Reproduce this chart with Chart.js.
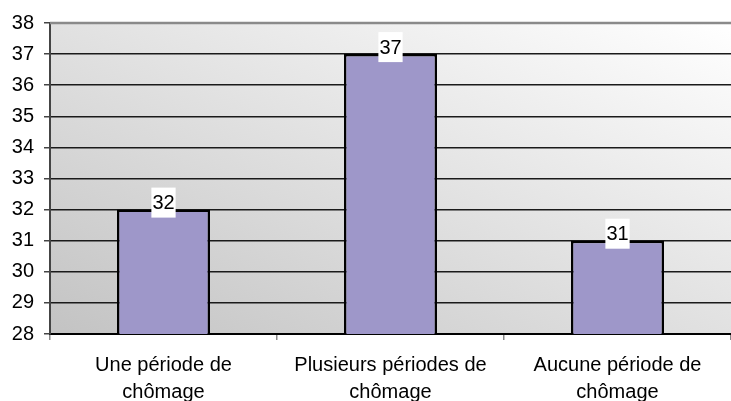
<!DOCTYPE html>
<html>
<head>
<meta charset="utf-8">
<script src="https://cdn.jsdelivr.net/npm/chart.js@4.4.1/dist/chart.umd.min.js"></script>
<style>
  html, body { margin: 0; padding: 0; background: #fff; }
  #wrap { width: 731px; height: 401px; }
</style>
</head>
<body>
<div id="wrap"><canvas id="myChart" width="731" height="401"></canvas></div>
<script>
(function () {
    "use strict";

    // chart data
    const categories = [
        ['Une période de', 'chômage'],
        ['Plusieurs périodes de', 'chômage'],
        ['Aucune période de', 'chômage']
    ];
    const values = [32, 37, 31];
    const yMin = 28;
    const yMax = 38;

    const FONT = '"Liberation Sans", Arial, sans-serif';

    // grey diagonal gradient behind the plot, plus the grey top border
    const plotBackground = {
        id: 'plotBackground',
        beforeDraw(chart) {
            const a = chart.chartArea;
            const c = chart.ctx;
            const w = a.right - a.left, h = a.bottom - a.top;
            const t = 2 * w * h / (w * w + h * h);
            const g = c.createLinearGradient(a.left, a.bottom, a.left + t * h, a.bottom - t * w);
            g.addColorStop(0, '#c3c3c3');
            g.addColorStop(1, '#ffffff');
            c.save();
            c.fillStyle = g;
            c.fillRect(a.left, a.top, w, h);
            c.restore();
        },
        afterDatasetsDraw(chart) {
            const a = chart.chartArea;
            const c = chart.ctx;
            c.save();
            c.strokeStyle = '#8a8a8a';
            c.lineWidth = 2.5;
            c.beginPath();
            c.moveTo(a.left, a.top);
            c.lineTo(a.right, a.top);
            c.stroke();
            c.restore();
        }
    };

    // value labels in white boxes above the bars
    const valueLabels = {
        id: 'valueLabels',
        afterDatasetsDraw(chart) {
            const c = chart.ctx;
            const meta = chart.getDatasetMeta(0);
            c.save();
            c.font = '20px ' + FONT;
            c.textAlign = 'center';
            c.textBaseline = 'middle';
            meta.data.forEach(function (bar, i) {
                const txt = String(values[i]);
                const bw = c.measureText(txt).width + 2;
                const bh = 30;
                const cy = bar.y - 7;
                c.fillStyle = '#ffffff';
                c.fillRect(bar.x - bw / 2, cy - bh / 2, bw, bh);
                c.fillStyle = '#000000';
                c.fillText(txt, bar.x, cy + 1);
            });
            c.restore();
        }
    };

    let ctx = document.getElementById('myChart').getContext('2d');
    let chart = new Chart(ctx, {
        type: 'bar',
        data: {
            labels: categories,
            datasets: [
                {
                    data: values,
                    backgroundColor: '#9e97c9',
                    borderColor: '#000000',
                    borderWidth: 2.5,
                    borderSkipped: 'bottom',
                    barPercentage: 0.82,
                    categoryPercentage: 0.5
                }
            ]
        },
        options: {
            responsive: false,
            animation: false,
            layout: {
                padding: { top: 23, right: 0, left: 0, bottom: 0 }
            },
            plugins: {
                legend: { display: false },
                tooltip: { enabled: false }
            },
            scales: {
                x: {
                    afterFit(scale) { scale.height = 67; },
                    grid: {
                        offset: true,
                        drawOnChartArea: false,
                        drawTicks: true,
                        tickLength: 6,
                        color: '#888888',
                        lineWidth: 1.5
                    },
                    border: { display: true, color: '#000000', width: 2 },
                    ticks: {
                        color: '#000000',
                        padding: 12,
                        maxRotation: 0,
                        autoSkip: false,
                        font: { family: FONT, size: 20, lineHeight: '27px' }
                    }
                },
                y: {
                    min: yMin,
                    max: yMax,
                    afterFit(scale) { scale.width = 50; },
                    grid: {
                        color: function (ctx) {
                            return (ctx.tick && (ctx.tick.value === yMax)) ? 'rgba(0,0,0,0)' : '#1a1a1a';
                        },
                        lineWidth: 1.5,
                        tickLength: 6,
                        tickColor: '#444444'
                    },
                    border: { display: true, color: '#444444', width: 2 },
                    ticks: {
                        stepSize: 1,
                        color: '#000000',
                        padding: 10,
                        font: { family: FONT, size: 20 }
                    }
                }
            }
        },
        plugins: [plotBackground, valueLabels]
    });
})();
</script>
</body>
</html>
